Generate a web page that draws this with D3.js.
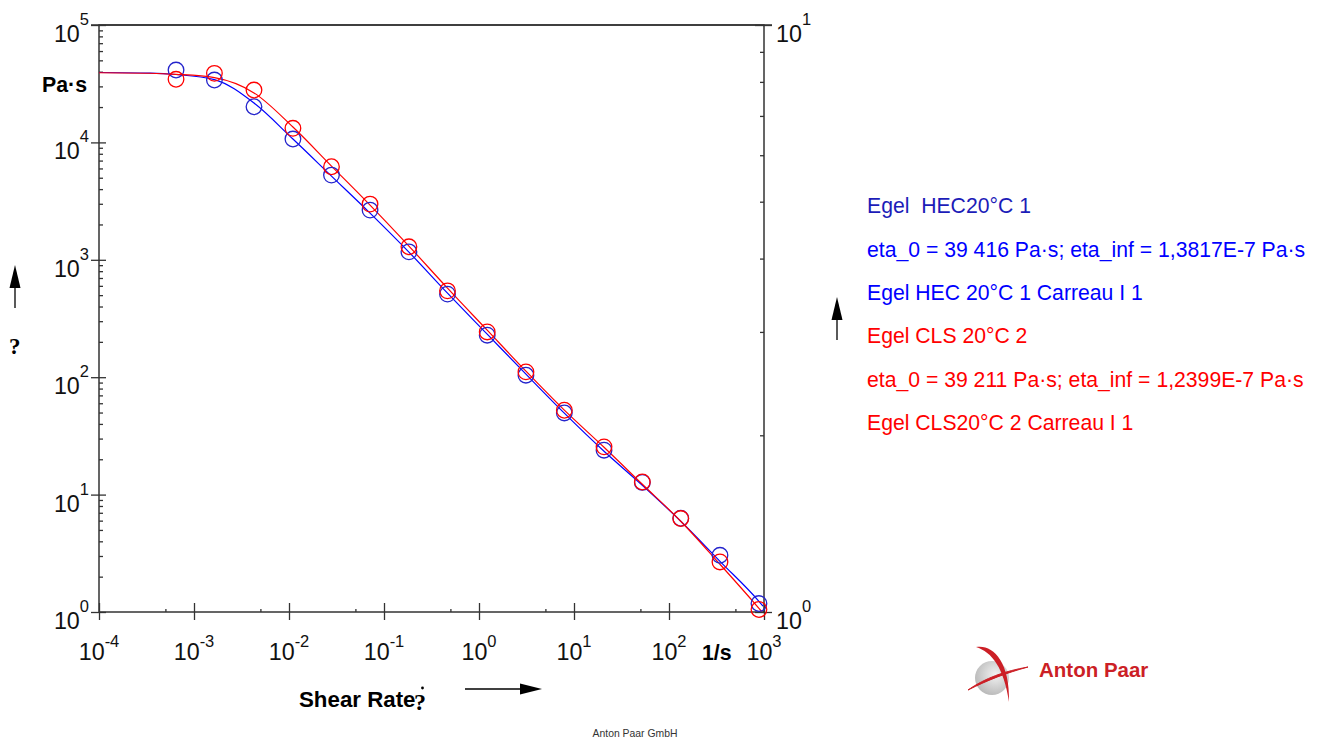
<!DOCTYPE html>
<html>
<head>
<meta charset="utf-8">
<script src="https://cdn.jsdelivr.net/npm/d3@7"></script>
<style>
  body { margin: 0; background: #fff; }
  svg { display: block; font-family: "Liberation Sans", Arial, sans-serif; }
</style>
</head>
<body>
<svg id="chart" width="1324" height="740"></svg>
<script>
// measured shear rates (1/s)
var shearRate = [6.47e-4, 1.64e-3, 4.28e-3, 0.0110, 0.0280, 0.0713, 0.183, 0.466,
                 1.22, 3.12, 7.91, 20.7, 52.4, 133, 344, 885];
// viscosity, Pa·s
var hecEta = [41350, 33970, 20120, 10680, 5268, 2651, 1169, 510,
              228, 104, 49.6, 23.9, 12.7, 6.29, 3.04, 1.18];
var clsEta = [34460, 38750, 27930, 13180, 6200, 2982, 1290, 544,
              243, 111, 52.3, 25.5, 12.8, 6.25, 2.67, 1.05];

// Carreau fit curves
var hecFitRate = [1e-4, 3.44e-4, 6.47e-4, 1.64e-3, 4.28e-3, 0.0110, 0.0280, 0.0713, 0.183, 0.466,
                  1.22, 3.12, 7.91, 20.7, 52.4, 133, 344, 885, 975];
var hecFit = [39400, 38900, 37860, 34300, 21640, 10680, 5166, 2499, 1163, 520,
              232.6, 106.1, 49.4, 23.4, 12.0, 5.93, 2.70, 1.23, 1.12];
var clsFitRate = [1e-4, 3.44e-4, 6.47e-4, 1.64e-3, 4.28e-3, 0.0110, 0.0280, 0.0713, 0.183, 0.466,
                  1.22, 3.12, 7.91, 20.7, 52.4, 133, 344, 885, 946];
var clsFit = [39200, 38800, 38000, 35600, 26400, 13510, 6285, 2924, 1308, 573.6,
              251.6, 112.5, 52.4, 25.3, 12.25, 5.93, 2.55, 1.075, 1.01];

var xMajor = [1e-4, 1e-3, 1e-2, 1e-1, 1, 10, 100, 1000];
var xExp = ["-4", "-3", "-2", "-1", "0", "1", "2", "3"];
var yMajor = [1, 10, 100, 1000, 1e4, 1e5];
var yExp = ["0", "1", "2", "3", "4", "5"];
var y2Major = [1, 10];
var y2Exp = ["0", "1"];

var legendText = [
  "Egel  HEC20°C 1",
  "eta_0 = 39 416 Pa·s; eta_inf = 1,3817E-7 Pa·s",
  "Egel HEC 20°C 1 Carreau I 1",
  "Egel CLS 20°C 2",
  "eta_0 = 39 211 Pa·s; eta_inf = 1,2399E-7 Pa·s",
  "Egel CLS20°C 2 Carreau I 1"
];
var legendFill = ["#1c1cb8", "#0000ff", "#0000ff", "#ff0000", "#ff0000", "#ff0000"];

function drawChart() {
  var svg = d3.select("#chart");
  var pLeft = 99, pRight = 764, pTop = 25, pBottom = 612;
  var axisColor = "#333";

  var x = d3.scaleLog().domain([1e-4, 1e3]).range([pLeft, pRight]);
  var y = d3.scaleLog().domain([1, 1e5]).range([pBottom, pTop]);
  var y2 = d3.scaleLog().domain([1, 10]).range([pBottom, pTop]);

  function minorTicks(scale, mults) {
    var out = [];
    var d = scale.domain();
    for (var e = Math.round(Math.log10(d[0])); e < Math.round(Math.log10(d[1])); e++) {
      mults.forEach(function(m) { out.push(m * Math.pow(10, e)); });
    }
    return out;
  }

  function styleAxis(g) {
    g.selectAll("path").remove();
    g.selectAll("line").attr("stroke", axisColor).attr("stroke-width", 1.3);
  }

  // frame
  svg.append("rect")
    .attr("x", pLeft).attr("y", pTop)
    .attr("width", pRight - pLeft).attr("height", pBottom - pTop)
    .attr("fill", "none").attr("stroke", axisColor).attr("stroke-width", 1.5);
  svg.append("line")
    .attr("x1", pLeft - 8).attr("x2", pRight + 8)
    .attr("y1", pTop).attr("y2", pTop)
    .attr("stroke", axisColor).attr("stroke-width", 1.5);

  // left axis
  svg.append("g").attr("transform", "translate(" + pLeft + ",0)")
    .call(d3.axisLeft(y).tickValues(yMajor).tickSize(8).tickFormat(""))
    .call(styleAxis);
  svg.append("g").attr("transform", "translate(" + pLeft + ",0)")
    .call(d3.axisRight(y).tickValues(yMajor).tickSize(7).tickFormat(""))
    .call(styleAxis);
  svg.append("g").attr("transform", "translate(" + pLeft + ",0)")
    .call(d3.axisRight(y).tickValues(minorTicks(y, [2, 3, 4, 5, 6, 7, 8, 9])).tickSize(4).tickFormat(""))
    .call(styleAxis);

  // right axis
  svg.append("g").attr("transform", "translate(" + pRight + ",0)")
    .call(d3.axisLeft(y2).tickValues(y2Major).tickSize(9).tickFormat(""))
    .call(styleAxis);
  svg.append("g").attr("transform", "translate(" + pRight + ",0)")
    .call(d3.axisRight(y2).tickValues(y2Major).tickSize(8).tickFormat(""))
    .call(styleAxis);
  svg.append("g").attr("transform", "translate(" + pRight + ",0)")
    .call(d3.axisLeft(y2).tickValues(minorTicks(y2, [2, 3, 4, 5, 6, 7, 8, 9])).tickSize(4).tickFormat(""))
    .call(styleAxis);

  // bottom axis
  svg.append("g").attr("transform", "translate(0," + pBottom + ")")
    .call(d3.axisTop(x).tickValues(xMajor).tickSize(9).tickFormat(""))
    .call(styleAxis);
  svg.append("g").attr("transform", "translate(0," + pBottom + ")")
    .call(d3.axisBottom(x).tickValues(xMajor).tickSize(8).tickFormat(""))
    .call(styleAxis);
  svg.append("g").attr("transform", "translate(0," + pBottom + ")")
    .call(d3.axisTop(x).tickValues(minorTicks(x, [5])).tickSize(3).tickFormat(""))
    .call(styleAxis);

  // tick labels with superscripts
  function powLabel(sel, supDy) {
    sel.append("tspan").attr("font-size", 23.3).text("10");
    sel.append("tspan").attr("font-size", 16.5).attr("dy", supDy).text(function(d) { return d.exp; });
  }
  svg.append("g").selectAll("text")
    .data(yMajor.map(function(v, i) { return {v: v, exp: yExp[i]}; }))
    .enter().append("text")
    .attr("x", 89).attr("y", function(d) { return y(d.v) + 17; })
    .attr("text-anchor", "end").attr("fill", "#111")
    .call(powLabel, -17);
  svg.append("g").selectAll("text")
    .data(y2Major.map(function(v, i) { return {v: v, exp: y2Exp[i]}; }))
    .enter().append("text")
    .attr("x", 776).attr("y", function(d) { return y2(d.v) + 17; })
    .attr("text-anchor", "start").attr("fill", "#111")
    .call(powLabel, -17);
  svg.append("g").selectAll("text")
    .data(xMajor.map(function(v, i) { return {v: v, exp: xExp[i]}; }))
    .enter().append("text")
    .attr("x", function(d) { return x(d.v); }).attr("y", pBottom + 48)
    .attr("text-anchor", "middle").attr("fill", "#111")
    .call(powLabel, -13);

  // unit labels
  svg.append("text").attr("x", 42).attr("y", 92)
    .attr("font-weight", "bold").attr("font-size", 21.3).text("Pa·s");
  svg.append("text").attr("x", 702).attr("y", 660)
    .attr("font-weight", "bold").attr("font-size", 21.3).text("1/s");
  svg.append("text").attr("x", 299).attr("y", 707)
    .attr("font-weight", "bold").attr("font-size", 22.3).text("Shear Rate");
  svg.append("text").attr("x", 414).attr("y", 710)
    .attr("font-family", "Liberation Serif, serif")
    .attr("font-weight", "bold").attr("font-size", 24).text("?");
  svg.append("circle").attr("cx", 422.5).attr("cy", 688).attr("r", 1.4).attr("fill", "#000");
  svg.append("text").attr("x", 9).attr("y", 354)
    .attr("font-family", "Liberation Serif, serif")
    .attr("font-weight", "bold").attr("font-size", 23).text("?");

  // arrows
  function arrow(x1, y1, x2, y2v, headLen, headW) {
    var dx = x2 - x1, dy = y2v - y1, L = Math.sqrt(dx * dx + dy * dy);
    var ux = dx / L, uy = dy / L;
    var bx = x2 - ux * headLen, by = y2v - uy * headLen;
    svg.append("line").attr("x1", x1).attr("y1", y1).attr("x2", bx).attr("y2", by)
      .attr("stroke", "#000").attr("stroke-width", 1.3);
    svg.append("path")
      .attr("d", "M" + x2 + "," + y2v +
        "L" + (bx - uy * headW / 2) + "," + (by + ux * headW / 2) +
        "L" + (bx + uy * headW / 2) + "," + (by - ux * headW / 2) + "Z")
      .attr("fill", "#000");
  }
  arrow(15, 308, 15, 265, 23, 11);
  arrow(837, 340, 837, 297, 23, 11);
  arrow(465, 689, 542, 689, 22, 11);

  // fit curves
  var line = d3.line()
    .x(function(d) { return x(d[0]); })
    .y(function(d) { return y(d[1]); })
    .curve(d3.curveMonotoneX);
  svg.append("path")
    .datum(d3.zip(hecFitRate, hecFit))
    .attr("d", line).attr("fill", "none").attr("stroke", "#0000ff").attr("stroke-width", 1.2);
  svg.append("path")
    .datum(d3.zip(clsFitRate, clsFit))
    .attr("d", line).attr("fill", "none").attr("stroke", "#ff0000").attr("stroke-width", 1.2);

  // measured points
  svg.append("g").selectAll("circle")
    .data(d3.zip(shearRate, hecEta))
    .enter().append("circle")
    .attr("cx", function(d) { return x(d[0]); })
    .attr("cy", function(d) { return y(d[1]); })
    .attr("r", 7.8).attr("fill", "none").attr("stroke", "#2424cc").attr("stroke-width", 1.3);
  svg.append("g").selectAll("circle")
    .data(d3.zip(shearRate, clsEta))
    .enter().append("circle")
    .attr("cx", function(d) { return x(d[0]); })
    .attr("cy", function(d) { return y(d[1]); })
    .attr("r", 7.8).attr("fill", "none").attr("stroke", "#ff0000").attr("stroke-width", 1.3);

  // legend
  svg.append("g").selectAll("text")
    .data(legendText)
    .enter().append("text")
    .attr("x", 867).attr("y", function(d, i) { return 213.3 + i * 43.3; })
    .attr("font-size", 21.2)
    .attr("fill", function(d, i) { return legendFill[i]; })
    .style("white-space", "pre")
    .text(function(d) { return d; });

  // footer
  svg.append("text").attr("x", 635).attr("y", 737)
    .attr("text-anchor", "middle").attr("font-size", 10.4).attr("fill", "#333")
    .text("Anton Paar GmbH");

  // logo
  var defs = svg.append("defs");
  var grad = defs.append("radialGradient").attr("id", "ball").attr("cx", "60%").attr("cy", "40%").attr("r", "65%");
  grad.append("stop").attr("offset", "0%").attr("stop-color", "#f2f2f2");
  grad.append("stop").attr("offset", "100%").attr("stop-color", "#b8b8b8");
  svg.append("circle").attr("cx", 992).attr("cy", 678).attr("r", 17).attr("fill", "url(#ball)");
  svg.append("path")
    .attr("d", "M976,647 C992,644 1010,660 1009,702 C1004,668 992,652 976,647 Z")
    .attr("fill", "#cc1f26");
  svg.append("path")
    .attr("d", "M968,690 C985,678 1005,671 1028,667 C1006,673 988,680 968,690 Z")
    .attr("fill", "#cc1f26").attr("stroke", "#cc1f26").attr("stroke-width", 1);
  svg.append("text").attr("x", 1039).attr("y", 677)
    .attr("font-weight", "bold").attr("font-size", 20.5).attr("fill", "#cc1f26")
    .text("Anton Paar");
}

drawChart();
</script>
</body>
</html>
